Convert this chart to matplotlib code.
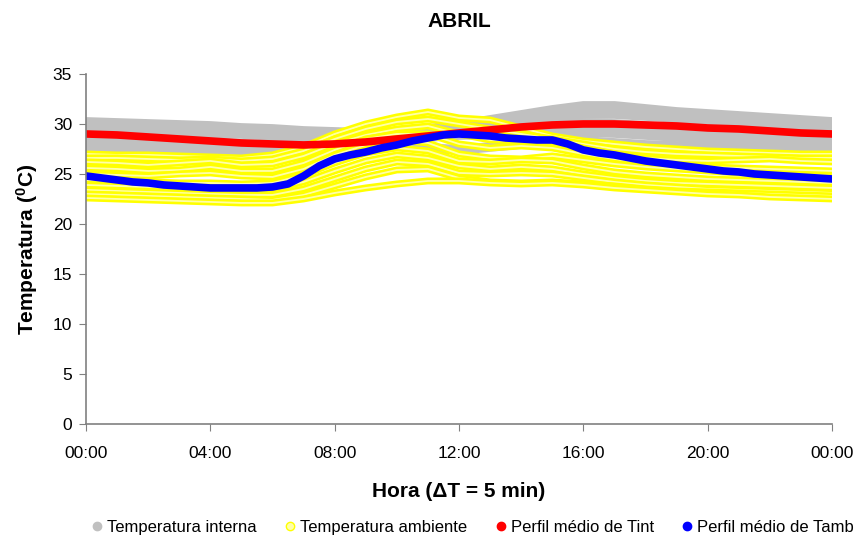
import matplotlib
matplotlib.use("Agg")
import matplotlib.pyplot as plt
from matplotlib.lines import Line2D

plt.rcParams["font.family"] = ["Liberation Sans", "DejaVu Sans"]
plt.rcParams["mathtext.fontset"] = "custom"
plt.rcParams["mathtext.rm"] = "Liberation Sans:bold"
plt.rcParams["mathtext.bf"] = "Liberation Sans:bold"

# hour of day, readings
hours = list(range(25))
half_hours = [h / 2 for h in range(49)]
tick_hours = [0, 4, 8, 12, 16, 20, 24]
tick_labels = ["00:00", "04:00", "08:00", "12:00", "16:00", "20:00", "00:00"]

# Temperatura interna (gray band, several days), hourly
t_int_1 = [30.2, 30.1, 30.0, 29.9, 29.8, 29.6, 29.5, 29.3, 29.2, 29.1, 29.2, 29.5, 29.9,
           30.4, 30.9, 31.4, 31.8, 31.8, 31.5, 31.2, 31.0, 30.8, 30.6, 30.4, 30.2]
t_int_2 = [29.6, 29.5, 29.4, 29.3, 29.1, 29.0, 28.8, 28.7, 28.6, 28.7, 28.9, 29.2, 29.6,
           30.0, 30.4, 30.8, 31.0, 31.0, 30.8, 30.6, 30.4, 30.2, 30.0, 29.8, 29.6]
t_int_3 = [28.9, 28.8, 28.6, 28.4, 28.2, 28.0, 27.9, 27.9, 28.0, 28.3, 28.6, 29.0, 29.3,
           29.6, 29.8, 30.0, 30.1, 30.0, 29.8, 29.6, 29.4, 29.2, 29.1, 28.9, 28.8]
t_int_4 = [28.2, 28.0, 27.8, 27.6, 27.4, 27.2, 27.1, 27.2, 27.6, 28.0, 28.4, 28.7, 28.9,
           29.0, 29.1, 29.2, 29.2, 29.1, 28.9, 28.7, 28.6, 28.4, 28.3, 28.1, 28.0]
t_int_5 = [27.6, 27.4, 27.2, 27.0, 26.8, 26.6, 26.5, 26.8, 27.2, 27.6, 27.8, 27.6, 27.4,
           27.7, 28.0, 28.2, 28.3, 28.1, 27.9, 27.8, 27.7, 27.6, 27.5, 27.5, 27.4]

# Temperatura ambiente (yellow, several days), hourly
t_amb_1 = [27.0, 26.9, 26.9, 26.8, 26.7, 26.6, 26.9, 27.7, 29.0, 30.0, 30.7, 31.2, 30.6,
           30.4, 29.6, 28.8, 28.3, 28.0, 27.7, 27.5, 27.3, 27.2, 27.1, 27.0, 27.0]
t_amb_2 = [26.6, 26.6, 26.5, 26.4, 26.5, 26.3, 26.5, 27.3, 28.5, 29.5, 30.2, 30.5, 30.0,
           29.5, 29.0, 28.5, 28.0, 27.5, 27.2, 27.0, 26.9, 26.8, 26.7, 26.6, 26.6]
t_amb_3 = [26.2, 26.1, 25.9, 26.1, 26.3, 25.9, 26.0, 26.8, 28.0, 28.9, 29.5, 29.8, 29.0,
           28.4, 28.3, 28.2, 27.6, 27.0, 26.6, 26.4, 26.3, 26.4, 26.5, 26.3, 26.2]
t_amb_4 = [25.6, 25.5, 25.3, 25.4, 25.7, 25.3, 25.3, 26.1, 27.4, 28.5, 29.0, 29.0, 28.0,
           27.6, 27.8, 27.6, 27.0, 26.5, 26.1, 25.9, 25.7, 25.6, 25.5, 25.4, 25.3]
t_amb_5 = [25.0, 24.9, 24.8, 25.0, 25.1, 24.8, 24.7, 25.5, 26.9, 27.9, 28.4, 28.1, 27.0,
           26.6, 26.5, 26.8, 26.4, 26.0, 25.7, 25.5, 25.3, 25.1, 25.0, 24.9, 24.8]
t_amb_6 = [24.4, 24.3, 24.2, 24.1, 24.1, 24.0, 24.1, 24.9, 26.1, 27.1, 27.6, 27.3, 26.3,
           26.2, 26.4, 26.3, 25.7, 25.2, 24.9, 24.7, 24.5, 24.4, 24.3, 24.2, 24.1]
t_amb_7 = [23.9, 23.8, 23.7, 23.6, 23.5, 23.4, 23.5, 24.2, 25.3, 26.3, 26.9, 26.6, 25.8,
           25.5, 25.7, 25.5, 25.0, 24.6, 24.3, 24.1, 24.0, 23.9, 23.8, 23.7, 23.6]
t_amb_8 = [23.4, 23.3, 23.2, 23.1, 23.0, 22.9, 22.9, 23.5, 24.5, 25.5, 26.2, 26.0, 25.1,
           25.0, 25.1, 25.0, 24.6, 24.2, 23.9, 23.7, 23.5, 23.4, 23.3, 23.2, 23.1]
t_amb_9 = [23.0, 22.9, 22.8, 22.7, 22.6, 22.5, 22.4, 22.9, 23.8, 24.7, 25.4, 25.5, 24.6,
           24.2, 24.1, 24.2, 24.0, 23.8, 23.5, 23.3, 23.2, 23.1, 23.0, 22.9, 22.8]
t_amb_10 = [22.6, 22.5, 22.4, 22.3, 22.2, 22.1, 22.1, 22.5, 23.1, 23.6, 24.0, 24.3, 24.3,
            24.1, 24.0, 24.1, 23.9, 23.6, 23.4, 23.2, 23.0, 22.9, 22.7, 22.6, 22.5]

# mean profiles
perfil_tint = [29.0, 28.9, 28.7, 28.5, 28.3, 28.1, 28.0, 27.9, 28.0, 28.2, 28.5, 28.8, 29.1,
               29.4, 29.7, 29.9, 30.0, 30.0, 29.9, 29.8, 29.6, 29.5, 29.3, 29.1, 29.0]
# half-hourly
perfil_tamb = [24.8, 24.6, 24.4, 24.2, 24.1, 23.9, 23.8, 23.7, 23.6, 23.6, 23.6, 23.6,
               23.7, 24.0, 24.8, 25.8, 26.5, 26.9, 27.2, 27.6, 27.9, 28.3, 28.6, 28.9,
               29.0, 28.9, 28.8, 28.6, 28.5, 28.4, 28.4, 28.0, 27.4, 27.1, 26.9, 26.6,
               26.3, 26.1, 25.9, 25.7, 25.5, 25.3, 25.2, 25.0, 24.9, 24.8, 24.7, 24.6, 24.5]

t_int = [t_int_1, t_int_2, t_int_3, t_int_4, t_int_5]
t_amb = [t_amb_1, t_amb_2, t_amb_3, t_amb_4, t_amb_5, t_amb_6, t_amb_7, t_amb_8, t_amb_9, t_amb_10]

fig = plt.figure(figsize=(8.6, 5.4), dpi=100)
ax = fig.add_axes([0.1, 0.215, 0.8675, 0.648])

for serie in t_int:
    ax.plot(hours, serie, color="#C0C0C0", lw=7, solid_capstyle="butt")
for serie in t_amb:
    ax.plot(hours, serie, color="#FFFF00", lw=5, solid_capstyle="round")
    ax.plot(hours, serie, color="#FFFFA8", lw=1.3)
ax.plot(hours, perfil_tint, color="#FF0000", lw=5.5)
ax.plot(half_hours, perfil_tamb, color="#0000FF", lw=5.5)

ax.set_xlim(0, 24)
ax.set_ylim(0, 35)
ax.set_xticks(tick_hours)
ax.set_xticklabels(tick_labels)
ax.set_yticks(range(0, 36, 5))
ax.tick_params(direction="out", length=5, color="#808080", labelsize=12.5)
ax.tick_params(axis="x", pad=11)
ax.tick_params(axis="y", pad=5)
for s in ["top", "right"]:
    ax.spines[s].set_visible(False)
for s in ["left", "bottom"]:
    ax.spines[s].set_color("#808080")
    ax.spines[s].set_linewidth(1.2)

ax.set_title("ABRIL", fontsize=15, fontweight="bold", pad=34)
ax.set_xlabel("Hora (\u0394T = 5 min)", fontsize=15, fontweight="bold", labelpad=15)
ax.set_ylabel("Temperatura ($\\mathbf{^0}$C)", fontsize=15, fontweight="bold", labelpad=9)

handles = [
    Line2D([], [], ls="none", marker="o", ms=6, color="#C0C0C0"),
    Line2D([], [], ls="none", marker="o", ms=6, mec="#FFFF00", mfc="#FFFFA8"),
    Line2D([], [], ls="none", marker="o", ms=6, color="#FF0000"),
    Line2D([], [], ls="none", marker="o", ms=6, color="#0000FF"),
]
labels = ["Temperatura interna", "Temperatura ambiente", "Perfil médio de Tint", "Perfil médio de Tamb"]
fig.legend(handles, labels, loc="center", bbox_to_anchor=(0.548, 0.024), ncol=4, frameon=False,
           fontsize=12, handletextpad=0.1, columnspacing=1.5, handlelength=1.0)

fig.savefig("out.png", dpi=100)
